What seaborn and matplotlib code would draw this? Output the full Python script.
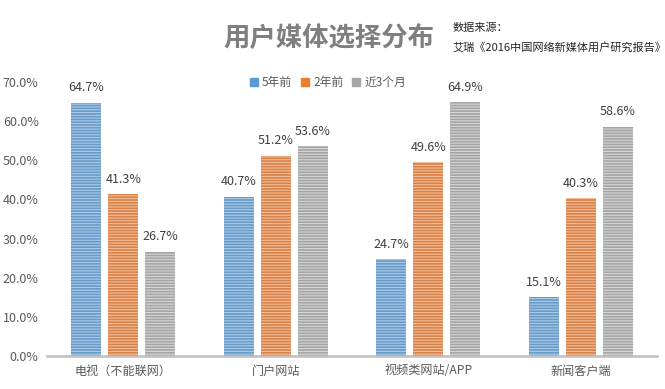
import pandas as pd
import seaborn as sns
import matplotlib.pyplot as plt

categories = ['电视（不能联网）', '门户网站', '视频类网站/APP', '新闻客户端']
periods = ['5年前', '2年前', '近3个月']
five_years = [64.7, 40.7, 24.7, 15.1]
two_years = [41.3, 51.2, 49.6, 40.3]
recent = [26.7, 53.6, 64.9, 58.6]
yticks = [0, 10, 20, 30, 40, 50, 60, 70]

colors = ['#5B9BD5', '#ED7D31', '#A5A5A5']
stripes = ['#A9CBEB', '#F6BE98', '#D6D6D6']

df = pd.DataFrame({
    'category': categories * 3,
    'period': [p for p in periods for _ in categories],
    'value': five_years + two_years + recent,
})

sns.set_style('white')
plt.rcParams['font.family'] = ['Noto Sans CJK SC', 'DejaVu Sans']
plt.rcParams['hatch.linewidth'] = 0.8

fig = plt.figure(figsize=(6.65, 3.89), dpi=100)
ax = fig.add_axes([0.0707, 0.0848, 0.9173, 0.7042])

sns.barplot(data=df, x='category', y='value', hue='period', palette=colors,
            width=0.73, gap=0.19, ax=ax, legend=False)

# striped bars
for i, cont in enumerate(ax.containers):
    for bar in cont:
        bar.set_hatch('------')
        bar.set_edgecolor(stripes[i])
        bar.set_linewidth(0)
    ax.bar_label(cont, labels=[f'{v:.1f}%' for v in cont.datavalues],
                 padding=6, fontsize=9, color='#404040')

ax.set_ylim(0, 70)
ax.set_yticks(yticks)
ax.set_yticklabels([f'{t:.1f}%' for t in yticks], fontsize=9, color='#595959')
ax.tick_params(axis='x', labelsize=8.7, labelcolor='#595959', length=0, pad=6)
ax.tick_params(axis='y', length=0, pad=6)
ax.set_xlabel('')
ax.set_ylabel('')
for s in ['top', 'right', 'left']:
    ax.spines[s].set_visible(False)
ax.spines['bottom'].set_color('#BFBFBF')
ax.spines['bottom'].set_linewidth(1.8)
ax.set_xlim(-0.5, 3.5)

# legend
handles = [plt.Line2D([], [], marker='s', ls='', color=c, markersize=5.5) for c in colors]
fig.legend(handles, periods, loc='center', bbox_to_anchor=(0.492, 0.787), ncol=3,
           frameon=False, fontsize=8.5, handletextpad=0.2, columnspacing=0.6,
           handlelength=1, labelcolor='#595959')

fig.text(0.494, 0.902, '用户媒体选择分布', ha='center', va='center',
         fontsize=19, fontweight='bold', color='#7F7F7F')
fig.text(0.68, 0.928, '数据来源：', ha='left', va='center', fontsize=8, color='#262626')
fig.text(0.68, 0.877, '艾瑞《2016中国网络新媒体用户研究报告》', ha='left', va='center',
         fontsize=8, color='#262626')

fig.savefig('out.png', dpi=100)
